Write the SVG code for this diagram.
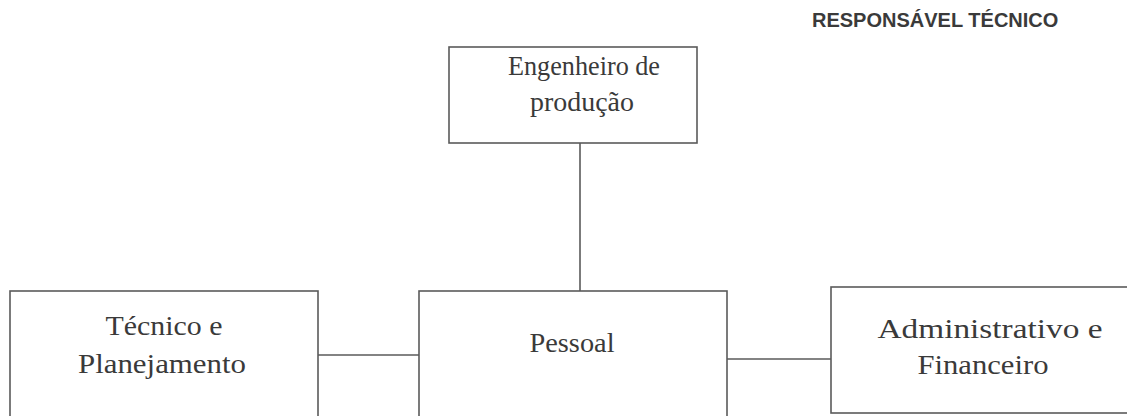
<svg xmlns="http://www.w3.org/2000/svg" width="1127" height="416" viewBox="0 0 1127 416">
<style>
.box{fill:#fff;stroke:#5a5a5a;stroke-width:1.6}
.lbl{font-family:"Liberation Serif","Times New Roman",serif;font-size:28px;fill:#3a3a3a;text-anchor:middle}
.con{stroke:#5a5a5a;stroke-width:1.6;fill:none}
.hdr{font-family:"Liberation Sans",Arial,sans-serif;font-size:20px;font-weight:bold;fill:#3a3a3a}
</style>
<rect width="1127" height="416" fill="#fff"/>
<text class="hdr" x="812" y="27">RESPONSÁVEL TÉCNICO</text>
<g id="connectors">
<line class="con" x1="580" y1="143" x2="580" y2="291"/>
<line class="con" x1="318" y1="355" x2="419" y2="355"/>
<line class="con" x1="727" y1="359" x2="831" y2="359"/>
</g>
<g id="engenheiro">
<rect class="box" x="449" y="47" width="248" height="96"/>
<text class="lbl" x="584" y="75" textLength="152" lengthAdjust="spacingAndGlyphs">Engenheiro de</text>
<text class="lbl" x="582" y="111" textLength="104" lengthAdjust="spacingAndGlyphs">produção</text>
</g>
<g id="tecnico">
<rect class="box" x="10" y="291" width="308" height="140"/>
<text class="lbl" x="164" y="335" textLength="117" lengthAdjust="spacingAndGlyphs">Técnico e</text>
<text class="lbl" x="162" y="373" textLength="168" lengthAdjust="spacingAndGlyphs">Planejamento</text>
</g>
<g id="pessoal">
<rect class="box" x="419" y="291" width="308" height="140"/>
<text class="lbl" x="572" y="352" textLength="85" lengthAdjust="spacingAndGlyphs">Pessoal</text>
</g>
<g id="administrativo">
<rect class="box" x="831" y="287" width="310" height="126"/>
<text class="lbl" x="990" y="338" textLength="225" lengthAdjust="spacingAndGlyphs">Administrativo e</text>
<text class="lbl" x="983" y="374" textLength="131" lengthAdjust="spacingAndGlyphs">Financeiro</text>
</g>
</svg>
